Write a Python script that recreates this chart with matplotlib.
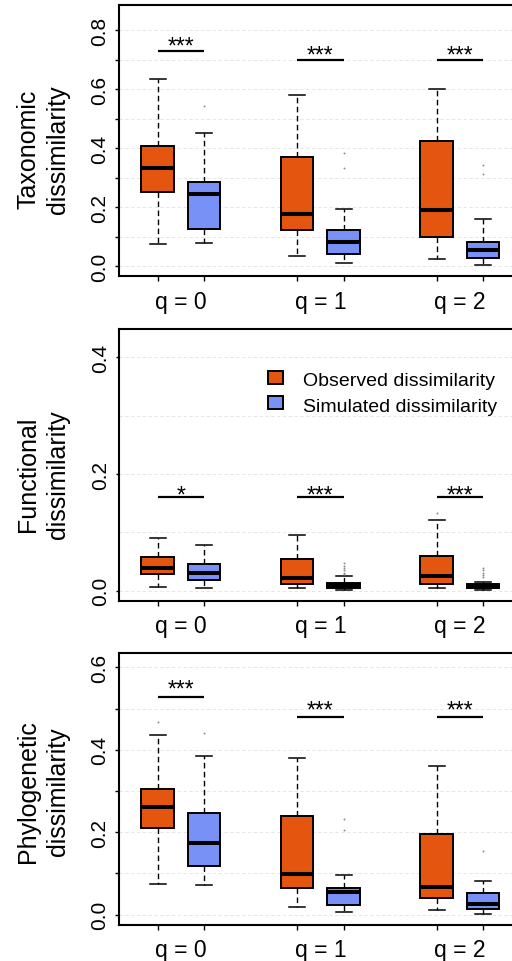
import matplotlib
matplotlib.use('Agg')
import matplotlib.pyplot as plt
from matplotlib.patches import Rectangle

plt.rcParams['font.family'] = ['Liberation Sans', 'DejaVu Sans']

# ---------------- data ----------------
groups = ["q = 0", "q = 1", "q = 2"]
series = ["Observed dissimilarity", "Simulated dissimilarity"]

# five-number summaries per group: [whisker low, Q1, median, Q3, whisker high]
tax_obs = [[0.077, 0.252, 0.332, 0.407, 0.636],
           [0.034, 0.123, 0.177, 0.371, 0.579],
           [0.024, 0.099, 0.192, 0.426, 0.602]]
tax_sim = [[0.079, 0.128, 0.245, 0.286, 0.452],
           [0.010, 0.043, 0.081, 0.124, 0.195],
           [0.006, 0.028, 0.056, 0.081, 0.160]]
tax_obs_out = [[], [], []]
tax_sim_out = [[0.545], [0.383, 0.332], [0.345, 0.313]]
tax_sig = ["***", "***", "***"]
tax_sig_y = [0.730, 0.700, 0.700]
tax_star_y = [0.726, 0.695, 0.695]

fun_obs = [[0.007, 0.029, 0.039, 0.058, 0.090],
           [0.005, 0.011, 0.021, 0.055, 0.096],
           [0.004, 0.012, 0.026, 0.060, 0.121]]
fun_sim = [[0.005, 0.018, 0.030, 0.046, 0.078],
           [0.002, 0.005, 0.009, 0.014, 0.025],
           [0.002, 0.004, 0.007, 0.011, 0.015]]
fun_obs_out = [[], [], [0.134]]
fun_sim_out = [[], [0.047, 0.043, 0.039, 0.035, 0.031, 0.028],
               [0.039, 0.035, 0.031, 0.027, 0.024]]
fun_sig = ["*", "***", "***"]
fun_sig_y = [0.161, 0.161, 0.161]
fun_star_y = [0.153, 0.153, 0.153]

phy_obs = [[0.075, 0.211, 0.262, 0.306, 0.435],
           [0.019, 0.065, 0.098, 0.240, 0.379],
           [0.011, 0.041, 0.067, 0.197, 0.362]]
phy_sim = [[0.072, 0.118, 0.173, 0.247, 0.386],
           [0.006, 0.024, 0.055, 0.065, 0.097],
           [0.002, 0.014, 0.025, 0.052, 0.082]]
phy_obs_out = [[0.468], [], []]
phy_sim_out = [[0.442], [0.232, 0.205], [0.154]]
phy_sig = ["***", "***", "***"]
phy_sig_y = [0.529, 0.479, 0.479]
phy_star_y = [0.532, 0.481, 0.481]

ylabels = [("Taxonomic", "dissimilarity"),
           ("Functional", "dissimilarity"),
           ("Phylogenetic", "dissimilarity")]

# ---------------- style ----------------
col_obs = '#E4550F'
col_sim = '#7891F7'
W, H = 512, 962
fig = plt.figure(figsize=(W / 100, H / 100), dpi=100)


def fx(px):
    return px / W


def fy(py):
    return 1 - py / H


panel_px = [(6, 277), (330, 601.7), (654, 925.7)]
ylims = [(-0.0329, 0.8857), (-0.0171, 0.4486), (-0.0243, 0.635)]
ymaxes = [0.8, 0.4, 0.6]
label_cy = [149.5, 474.7, 792.0]

obs_pos = [1, 4, 7]
sim_pos = [2, 5, 8]
label_pos = [1.5, 4.5, 7.5]

data = [(tax_obs, tax_sim, tax_obs_out, tax_sim_out, tax_sig, tax_sig_y, tax_star_y),
        (fun_obs, fun_sim, fun_obs_out, fun_sim_out, fun_sig, fun_sig_y, fun_star_y),
        (phy_obs, phy_sim, phy_obs_out, phy_sim_out, phy_sig, phy_sig_y, phy_star_y)]


def stats(five, outs):
    res = []
    for f, o in zip(five, outs):
        res.append(dict(whislo=f[0], q1=f[1], med=f[2], q3=f[3], whishi=f[4], fliers=o))
    return res


for i, (top, bot) in enumerate(panel_px):
    ax = fig.add_axes([fx(119), fy(bot), (522 - 119) / W, (bot - top) / H])
    obs, sim, obs_o, sim_o, sig, sig_y, star_y = data[i]
    ax.set_xlim(0.168, 8.834)
    ax.set_ylim(*ylims[i])

    # grid
    ymax = ymaxes[i]
    n = int(round(ymax / 0.1))
    for k in range(n + 1):
        ax.axhline(k * 0.1, color='#E2E2E2', lw=0.6, ls=(0, (4, 3)), zorder=0)

    for five, outs, pos, col in ((obs, obs_o, obs_pos, col_obs), (sim, sim_o, sim_pos, col_sim)):
        ax.bxp(stats(five, outs), positions=pos, widths=0.7, patch_artist=True,
               showfliers=True, manage_ticks=False,
               boxprops=dict(facecolor=col, edgecolor='black', linewidth=1.4),
               whiskerprops=dict(color='black', linewidth=1.0, linestyle=(0, (4, 2.5))),
               capprops=dict(color='black', linewidth=1.1),
               capwidths=0.35,
               medianprops=dict(color='black', linewidth=2.9, solid_capstyle='butt'),
               flierprops=dict(marker='o', markersize=1.4, markerfacecolor='#8c8c8c',
                               markeredgewidth=0, linestyle='none'),
               zorder=2)

    # significance
    for j in range(3):
        ax.plot([obs_pos[j], sim_pos[j]], [sig_y[j], sig_y[j]], color='black', lw=1.6,
                solid_capstyle='butt', zorder=3)
        ax.text(label_pos[j], star_y[j], sig[j], ha='center', va='baseline', fontsize=16.5,
                zorder=3)

    # axes style
    for s in ax.spines.values():
        s.set_linewidth(1.5)
    ax.set_xticks(obs_pos + sim_pos)
    ax.set_xticklabels([''] * 6)
    ax.set_xticks(label_pos, minor=True)
    ax.set_xticklabels(groups, minor=True, fontsize=16.5)
    ax.tick_params(axis='x', which='major', direction='out', length=3.4, width=1.0)
    ax.tick_params(axis='x', which='minor', length=0, pad=9.8)

    if i == 1:
        yt = [0.0, 0.2, 0.4]
        ax.set_yticks(yt)
        ax.set_yticklabels(['0.0', '0.2', '0.4'])
        ax.tick_params(axis='y', length=2.2, width=1.0)
    else:
        yt = [k * 0.1 for k in range(n + 1)]
        ax.set_yticks(yt)
        ax.set_yticklabels(['%.1f' % v if k % 2 == 0 else '' for k, v in enumerate(yt)])
        ax.tick_params(axis='y', length=3.0, width=1.0)
    ax.tick_params(axis='y', labelsize=15, pad=4.0)
    for lab in ax.get_yticklabels():
        lab.set_rotation(90)
        lab.set_va('center')
        lab.set_ha('right')

    # y label (two lines)
    l1, l2 = ylabels[i]
    fig.text(fx(35), fy(label_cy[i]), l1, rotation=90, rotation_mode='anchor',
             ha='center', va='baseline', fontsize=18)
    fig.text(fx(65), fy(label_cy[i]), l2, rotation=90, rotation_mode='anchor',
             ha='center', va='baseline', fontsize=18)

# legend (in middle panel)
for (yt_, yb_), col, lab, base in (((372, 385), col_obs, series[0], 386),
                                   ((397, 410), col_sim, series[1], 411.7)):
    fig.add_artist(Rectangle((fx(268), fy(yb_)), (283 - 268) / W, (yb_ - yt_) / H,
                             transform=fig.transFigure, facecolor=col,
                             edgecolor='black', linewidth=1.4))
    fig.text(fx(302.7), fy(base), lab, ha='left', va='baseline', fontsize=14)

fig.savefig('out.png', dpi=100)
